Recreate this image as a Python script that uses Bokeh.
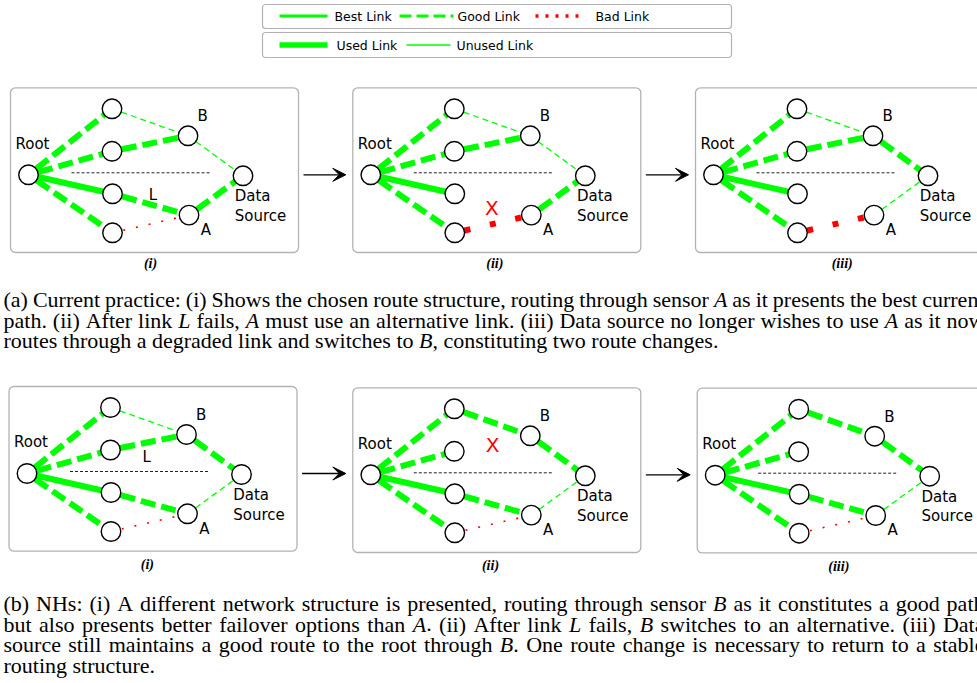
from bokeh.plotting import figure
from bokeh.models import Range1d, BoxAnnotation, Arrow, VeeHead
from bokeh.core.properties import value
from bokeh.embed import file_html
from bokeh.resources import INLINE

GREEN = "#00ff00"
RED = "#ff0000"

# ---------------- node layout inside one panel (offset from panel's top-left corner)
node_names = ["Root", "N1", "N2", "N3", "N4", "B", "A", "DS"]
node_dx = [18, 101.5, 101.5, 102, 102, 177.5, 178.5, 232.5]
node_dy = [87, 21, 63.5, 106, 145, 48, 127.3, 88]

# ---------------- panels
panel_left = [10, 352.3, 695, 8.5, 352.3, 696.7]
panel_top = [87.3, 87.3, 87.3, 386, 387.3, 387.7]
PANEL_W, PANEL_H = 288, 164.7
panel_caption = ["(i)", "(ii)", "(iii)", "(i)", "(ii)", "(iii)"]
caption_dx = [140, 142, 146.7, 138.4, 137.7, 141.6]
caption_dy = [175.4, 175.4, 175.4, 178, 178, 178]

# ---------------- links per panel: (from, to, link kind)
root_links = [("Root", "N1", "good_used"), ("Root", "N2", "good_used"),
              ("Root", "N3", "best_used"), ("Root", "N4", "good_used")]
edges_a_i = root_links + [("N1", "B", "good_unused"), ("N2", "B", "good_used"),
                          ("B", "DS", "good_unused"), ("N3", "A", "good_used"),
                          ("N4", "A", "bad_unused"), ("A", "DS", "good_used")]
edges_a_ii = root_links + [("N1", "B", "good_unused"), ("N2", "B", "good_used"),
                           ("B", "DS", "good_unused"), ("N4", "A", "bad_used"),
                           ("A", "DS", "good_used")]
edges_a_iii = root_links + [("N1", "B", "good_unused"), ("N2", "B", "good_used"),
                            ("B", "DS", "good_used"), ("N4", "A", "bad_used"),
                            ("A", "DS", "good_unused")]
edges_b_i = root_links + [("N1", "B", "good_unused"), ("N2", "B", "good_used"),
                          ("B", "DS", "good_used"), ("N3", "A", "good_used"),
                          ("N4", "A", "bad_unused"), ("A", "DS", "good_unused")]
edges_b_ii = root_links + [("N1", "B", "good_used"), ("B", "DS", "good_used"),
                           ("N3", "A", "good_used"), ("N4", "A", "bad_unused"),
                           ("A", "DS", "good_unused")]
edges_b_iii = list(edges_b_ii)
panel_edges = [edges_a_i, edges_a_ii, edges_a_iii, edges_b_i, edges_b_ii, edges_b_iii]

link_styles = {
    "best_used": dict(line_color=GREEN, line_width=6, line_dash="solid", line_dash_offset=0),
    "good_used": dict(line_color=GREEN, line_width=6, line_dash="15 6", line_dash_offset=11),
    "good_unused": dict(line_color=GREEN, line_width=1.3, line_dash="6 4", line_dash_offset=0),
    "bad_unused": dict(line_color=RED, line_width=1.6, line_dash="2 11", line_dash_offset=2),
    "bad_used": dict(line_color=RED, line_width=6, line_dash="6 20", line_dash_offset=16),
}

# ---------------- node labels
node_label_text = ["Root", "B", "A", "Data", "Source"]
node_label_dx = [5, 187, 190.3, 224.2, 224.2]
node_label_dy = [55.7, 28.4, 142.2, 108.5, 128]

link_label_panel = [0, 3]
link_label_dx = [138.3, 133.4]
link_label_dy = [107.3, 70]

fail_panel = [1, 4]
fail_dx = [139, 139.7]
fail_dy = [119.7, 57]

sep_dx = [61, 201]
sep_dy = 85

arrow_pairs = [(0, 1), (1, 2), (3, 4), (4, 5)]

# ---------------- legend
legend_box_top = [4, 32]
legend_box_bottom = [28, 57]
legend_box_left, legend_box_right = 262, 731
legend_names = ["Best Link", "Good Link", "Bad Link", "Used Link", "Unused Link"]
legend_x0 = [279, 399, 535, 279, 406]
legend_x1 = [327, 453, 585, 327, 450]
legend_text_x = [334, 457, 595, 336, 456]
legend_y = [15.5, 15.5, 15.5, 44.5, 44.5]
legend_style = [
    dict(line_color=GREEN, line_width=3, line_dash="solid"),
    dict(line_color=GREEN, line_width=3, line_dash="12 5"),
    dict(line_color=RED, line_width=3.5, line_dash="3 7"),
    dict(line_color=GREEN, line_width=5.5, line_dash="solid"),
    dict(line_color=GREEN, line_width=1.5, line_dash="solid"),
]

# ---------------- captions (*X* = italic)
caption_a = [
    "(a) Current practice: (i) Shows the chosen route structure, routing through sensor *A* as it presents the best current",
    "path. (ii) After link *L* fails, *A* must use an alternative link. (iii) Data source no longer wishes to use *A* as it now",
    "routes through a degraded link and switches to *B*, constituting two route changes.",
]
caption_a_justify = [True, True, False]
caption_a_baseline = [299, 319.5, 340]
caption_b = [
    "(b) NHs: (i) A different network structure is presented, routing through sensor *B* as it constitutes a good path",
    "but also presents better failover options than *A*. (ii) After link *L* fails, *B* switches to an alternative. (iii) Data",
    "source still maintains a good route to the root through *B*. One route change is necessary to return to a stable",
    "routing structure.",
]
caption_b_justify = [True, True, True, False]
caption_b_baseline = [603, 623.5, 644, 664.5]
CAP_X0, CAP_X1, CAP_F = 3, 984, 22

TIMES_W = {" ": 250, "(": 333, ")": 333, ",": 250, "-": 333, ".": 250, ":": 278, ";": 278,
           "A": 722, "B": 667, "C": 667, "D": 722, "E": 611, "F": 556, "G": 722, "H": 722,
           "I": 333, "J": 389, "K": 722, "L": 611, "M": 889, "N": 722, "O": 722, "P": 556,
           "Q": 722, "R": 667, "S": 556, "T": 611, "U": 722, "V": 722, "W": 944, "X": 722,
           "Y": 722, "Z": 611,
           "a": 444, "b": 500, "c": 444, "d": 500, "e": 444, "f": 333, "g": 500, "h": 500,
           "i": 278, "j": 278, "k": 500, "l": 278, "m": 778, "n": 500, "o": 500, "p": 500,
           "q": 500, "r": 333, "s": 389, "t": 278, "u": 500, "v": 500, "w": 722, "x": 500,
           "y": 500, "z": 444}
TIMES_IT_W = {"A": 611, "B": 611, "L": 556}


def text_w(s, italic, f):
    tbl = TIMES_IT_W if italic else {}
    return sum(tbl.get(c, TIMES_W.get(c, 500)) for c in s) * f / 1000.0


def layout_line(line, y, justify, out_norm, out_ital):
    words = line.split(" ")
    segs = []
    for w in words:
        parts = w.split("*")
        segs.append([(t, k % 2 == 1) for k, t in enumerate(parts) if t])
    widths = [sum(text_w(t, it, CAP_F) for t, it in ws) for ws in segs]
    if justify:
        gap = (CAP_X1 - CAP_X0 - sum(widths)) / (len(words) - 1)
    else:
        gap = 0.25 * CAP_F
    x = CAP_X0
    for ws, ww in zip(segs, widths):
        for t, it in ws:
            (out_ital if it else out_norm).append((x, y, t))
            x += text_w(t, it, CAP_F)
        x += gap


# ================= figure
p = figure(width=977, height=683, x_range=Range1d(0, 977), y_range=Range1d(683, 0),
           output_backend="svg", toolbar_location=None, x_axis_type=None, y_axis_type=None,
           min_border=0, outline_line_color=None)
p.background_fill_color = "white"
p.border_fill_color = "white"

# legend boxes
for t, b in zip(legend_box_top, legend_box_bottom):
    p.add_layout(BoxAnnotation(left=legend_box_left, right=legend_box_right, top=t, bottom=b,
                               fill_alpha=0, line_color="black", line_width=1.2,
                               border_radius=3))
for i, name in enumerate(legend_names):
    p.line([legend_x0[i], legend_x1[i]], [legend_y[i], legend_y[i]], **legend_style[i])
p.text(x=legend_text_x, y=legend_y, text=legend_names, text_font=value("DejaVu Sans"),
       text_font_size="12.5px", text_baseline="middle", text_align="left", text_color="black")

# panel boxes
for pi in range(len(panel_left)):
    p.add_layout(BoxAnnotation(left=panel_left[pi], right=panel_left[pi] + PANEL_W,
                               top=panel_top[pi], bottom=panel_top[pi] + PANEL_H,
                               fill_alpha=0, line_color="black", line_width=1.3,
                               border_radius=5))

# separators
sx, sy = [], []
for pi in range(len(panel_left)):
    sx.append([panel_left[pi] + sep_dx[0], panel_left[pi] + sep_dx[1]])
    sy.append([panel_top[pi] + sep_dy] * 2)
p.multi_line(xs=sx, ys=sy, line_color="#222222", line_width=1, line_dash="3 2")

# links
for kind, kw in link_styles.items():
    xs, ys = [], []
    for pi, edges in enumerate(panel_edges):
        for a, b, k in edges:
            if k != kind:
                continue
            ia, ib = node_names.index(a), node_names.index(b)
            xs.append([panel_left[pi] + node_dx[ia], panel_left[pi] + node_dx[ib]])
            ys.append([panel_top[pi] + node_dy[ia], panel_top[pi] + node_dy[ib]])
    if xs:
        p.multi_line(xs=xs, ys=ys, **kw)

# nodes
nx, ny = [], []
for pi in range(len(panel_left)):
    for j in range(len(node_names)):
        nx.append(panel_left[pi] + node_dx[j])
        ny.append(panel_top[pi] + node_dy[j])
p.scatter(nx, ny, marker="circle", size=19.5, fill_color="white", line_color="black",
          line_width=1.4)

# node labels
lx, ly, lt = [], [], []
for pi in range(len(panel_left)):
    for t, dx, dy in zip(node_label_text, node_label_dx, node_label_dy):
        lx.append(panel_left[pi] + dx)
        ly.append(panel_top[pi] + dy)
        lt.append(t)
for pi, dx, dy in zip(link_label_panel, link_label_dx, link_label_dy):
    lx.append(panel_left[pi] + dx)
    ly.append(panel_top[pi] + dy)
    lt.append("L")
p.text(x=lx, y=ly, text=lt, text_font=value("DejaVu Sans"), text_font_size="15px",
       text_baseline="middle", text_align="left", text_color="black")

# failure marks
p.text(x=[panel_left[pi] + dx for pi, dx in zip(fail_panel, fail_dx)],
       y=[panel_top[pi] + dy for pi, dy in zip(fail_panel, fail_dy)],
       text=["X"] * len(fail_panel), text_font=value("DejaVu Sans"), text_font_size="20px",
       text_baseline="middle", text_align="center", text_color=RED)

# sub-captions
p.text(x=[panel_left[i] + caption_dx[i] for i in range(len(panel_left))],
       y=[panel_top[i] + caption_dy[i] for i in range(len(panel_left))],
       text=panel_caption, text_font=value("Liberation Serif"), text_font_size="14px",
       text_font_style="bold italic", text_baseline="middle", text_align="center",
       text_color="black")

# arrows
for a, b in arrow_pairs:
    y = panel_top[a] + node_dy[0]
    p.add_layout(Arrow(x_start=panel_left[a] + PANEL_W + 5, y_start=y,
                       x_end=panel_left[b] - 7, y_end=y, line_color="black", line_width=1.3,
                       end=VeeHead(size=13, fill_color="black", line_color="black",
                                   line_width=1)))

# captions
norm, ital = [], []
for line, j, yb in zip(caption_a, caption_a_justify, caption_a_baseline):
    layout_line(line, yb, j, norm, ital)
for line, j, yb in zip(caption_b, caption_b_justify, caption_b_baseline):
    layout_line(line, yb, j, norm, ital)
p.text(x=[r[0] for r in norm], y=[r[1] for r in norm], text=[r[2] for r in norm],
       text_font=value("Liberation Serif"), text_font_size=f"{CAP_F}px",
       text_baseline="alphabetic", text_align="left", text_color="black")
p.text(x=[r[0] for r in ital], y=[r[1] for r in ital], text=[r[2] for r in ital],
       text_font=value("Liberation Serif"), text_font_size=f"{CAP_F}px",
       text_font_style="italic", text_baseline="alphabetic", text_align="left",
       text_color="black")

open("out.html", "w").write(file_html(p, INLINE))
